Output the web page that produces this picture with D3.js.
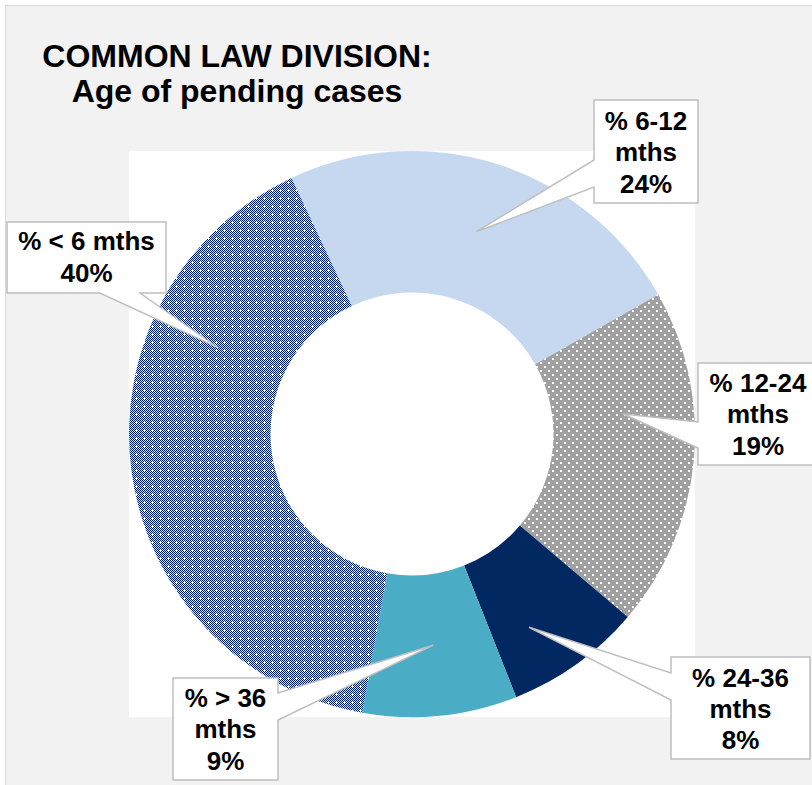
<!DOCTYPE html>
<html><head><meta charset="utf-8">
<script src="https://cdn.jsdelivr.net/npm/d3@7"></script>
<style>html,body{margin:0;padding:0;background:#fff;}svg{display:block;}</style>
</head><body>
<svg id="chart" width="812" height="785"></svg>
<script>
// ---- data ----
const titleLines = ["COMMON LAW DIVISION:", "Age of pending cases"];
const categories = ["% 6-12 mths", "% 12-24 mths", "% 24-36 mths", "% > 36 mths", "% < 6 mths"];
const values = [23.8, 19.4, 7.8, 8.8, 40.2];

// ---- styles / layout ----
const fills = ["#c6d8f0", "url(#pGray)", "#022862", "#4bacc6", "url(#pNavy)"];
const labelLayout = [
  {box:[594,100,698,203], side:"left", a:160, b:187, tipAng:null, split:true, cx:646, base:[130,161,193]},
  {box:[698,363,818,465], side:"left", a:422, b:448, tipAng:84.6, split:true, cx:758, base:[392,423,455]},
  {box:[671,657,810,759], side:"left", a:673, b:700, tipAng:148.8, tipR:226, split:true, cx:740.5, base:[687,718,749]},
  {box:[173,678,278,780], side:"right", a:693, b:720, tipAng:null, split:true, cx:225.5, base:[707,738,770]},
  {box:[7,222,166,293], side:"bottom", a:100, b:140, tipAng:294, split:false, cx:86.5, base:[250,282]}
];

const svg = d3.select("#chart");
const W = 812, H = 785;
const font = "'Liberation Sans', Arial, sans-serif";

// patterns
const defs = svg.append("defs");
const pn = defs.append("pattern").attr("id","pNavy").attr("patternUnits","userSpaceOnUse")
  .attr("width",8).attr("height",8);
pn.append("rect").attr("width",8).attr("height",8).attr("fill","#d4dae6");
const crosses = [[4,4]];
for (let y=0;y<8;y++) for (let x=0;x<8;x++) {
  if ((x+y)%2===0 && !crosses.some(c=>c[0]===x&&c[1]===y))
    pn.append("rect").attr("x",x).attr("y",y).attr("width",1).attr("height",1).attr("fill","#002060");
}
// white cross arms around the cross centre
crosses.forEach(c=>{
  [[0,0],[1,0],[-1,0],[0,1],[0,-1]].forEach(o=>pn.append("rect").attr("x",c[0]+o[0]).attr("y",c[1]+o[1])
    .attr("width",1).attr("height",1).attr("fill","#fff"));
});
pn.selectAll("rect").attr("shape-rendering","crispEdges");
const pg = defs.append("pattern").attr("id","pGray").attr("patternUnits","userSpaceOnUse")
  .attr("width",8).attr("height",8);
pg.append("rect").attr("width",8).attr("height",8).attr("fill","#a0a0a0");
[[0,0],[4,4]].forEach(d=>pg.append("rect").attr("x",d[0]).attr("y",d[1]).attr("width",2).attr("height",2).attr("fill","#fff"));
pg.selectAll("rect").attr("shape-rendering","crispEdges");

// chart background
svg.append("rect").attr("x",5.5).attr("y",5.5).attr("width",W).attr("height",H)
  .attr("fill","#f2f2f2").attr("stroke","#d9d9d9").attr("stroke-width",1);

// plot area
const plot = {x:129, y:151, w:566, h:566};
svg.append("rect").attr("x",plot.x).attr("y",plot.y).attr("width",plot.w).attr("height",plot.h).attr("fill","#fff");

// title
const title = svg.append("text").attr("font-family",font).attr("font-weight","bold")
  .attr("font-size",32).attr("fill","#000").attr("text-anchor","middle");
title.append("tspan").attr("x",237).attr("y",67).text(titleLines[0]);
title.append("tspan").attr("x",237).attr("y",102).text(titleLines[1]);

// donut
const cx = plot.x + plot.w/2, cy = plot.y + plot.h/2;
const rOuter = plot.w/2, rInner = rOuter*0.5;
const a0 = -25.2*Math.PI/180;
const pie = d3.pie().sort(null).startAngle(a0).endAngle(a0+2*Math.PI);
const arcs = pie(values);
const arc = d3.arc().innerRadius(rInner).outerRadius(rOuter);
const g = svg.append("g").attr("transform",`translate(${cx},${cy})`);
g.selectAll("path").data(arcs).join("path")
  .attr("d",arc).attr("fill",(d,i)=>fills[i]);

// labels
const total = d3.sum(values);
const pct = d3.format(".0%");
const midR = (rInner+rOuter)/2;
function calloutPath(L, tip){
  const [x0,y0,x1,y1] = L.box;
  const p = d3.path();
  p.moveTo(x0,y0); p.lineTo(x1,y0);
  if (L.side==="right"){ p.lineTo(x1,L.a); p.lineTo(tip[0],tip[1]); p.lineTo(x1,L.b); }
  p.lineTo(x1,y1);
  if (L.side==="bottom"){ p.lineTo(L.b,y1); p.lineTo(tip[0],tip[1]); p.lineTo(L.a,y1); }
  p.lineTo(x0,y1);
  if (L.side==="left"){ p.lineTo(x0,L.b); p.lineTo(tip[0],tip[1]); p.lineTo(x0,L.a); }
  p.closePath();
  return p.toString();
}
arcs.forEach((d,i)=>{
  const L = labelLayout[i];
  let tip;
  if (L.tipAng===null){ const c = arc.centroid(d); tip=[cx+c[0], cy+c[1]]; }
  else { const a=L.tipAng*Math.PI/180, r=L.tipR||midR; tip=[cx+r*Math.sin(a), cy-r*Math.cos(a)]; }
  svg.append("path").attr("d",calloutPath(L,tip)).attr("fill","#fff")
    .attr("stroke","#bfbfbf").attr("stroke-width",1.5).attr("stroke-linejoin","miter");
  const name = categories[i];
  const lines = L.split ? [name.replace(/ mths$/,""), "mths"] : [name];
  lines.push(pct(values[i]/total));
  const t = svg.append("text").attr("font-family",font).attr("font-weight","bold")
    .attr("font-size",26).attr("fill","#000").attr("text-anchor","middle");
  lines.forEach((s,k)=>t.append("tspan").attr("x",L.cx).attr("y",L.base[k]).text(s));
});
</script>
</body></html>
